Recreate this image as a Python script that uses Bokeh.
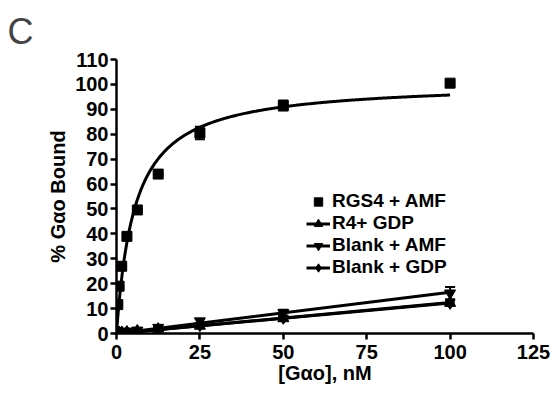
import numpy as np
from bokeh.plotting import figure
from bokeh.models import (Range1d, FixedTicker, Legend, LegendItem, Whisker,
                          ColumnDataSource, TeeHead)
from bokeh.embed import file_html
from bokeh.resources import INLINE

# ---- data ----
conc = [0.39, 0.78, 1.56, 3.125, 6.25, 12.5, 25, 50, 100]
rgs4_amf = [11.6, 19.0, 27.0, 39.0, 49.6, 64.0, 80.5, 91.5, 100.5]
rgs4_amf_err = [0, 0, 0, 0, 0, 0, 2.5, 2.0, 0]
r4_gdp = [0.2, 0.3, 0.4, 0.6, 1.0, 1.8, 3.0, 6.0, 12.2]
r4_gdp_err = [0, 0, 0, 0, 0.2, 0.3, 0.6, 0.8, 1.0]
blank_amf = [0.3, 0.4, 0.6, 0.9, 1.3, 2.4, 5.0, 8.3, 16.2]
blank_amf_err = [0, 0, 0, 0, 0.3, 0.5, 0.8, 1.2, 2.5]
blank_gdp = [0.2, 0.3, 0.4, 0.5, 0.9, 1.6, 3.3, 6.3, 12.3]
blank_gdp_err = [0, 0, 0, 0, 0.2, 0.3, 0.5, 0.8, 1.0]
bmax = 101.0
kd = 5.5
x_ticks = [0, 25, 50, 75, 100, 125]
y_ticks = [0, 10, 20, 30, 40, 50, 60, 70, 80, 90, 100, 110]
x_title = "[Gαo], nM"
y_title = "% Gαo Bound"

FONT = "Liberation Sans"

p = figure(width=554, height=396, output_backend="svg", toolbar_location=None,
           x_range=Range1d(0, 125), y_range=Range1d(0, 110),
           min_border_left=116, min_border_right=21, min_border_top=58,
           min_border_bottom=63)
p.outline_line_color = None
p.grid.visible = False
p.background_fill_color = "white"
p.border_fill_color = "white"

# title "C"
p.title.text = "C"
p.title.text_font = FONT
p.title.text_font_size = "36px"
p.title.text_font_style = "normal"
p.title.align = "left"
p.title.offset = -109
p.title.standoff = 16

for ax in (p.xaxis[0], p.yaxis[0]):
    ax.axis_line_width = 2.5
    ax.major_tick_line_width = 2.5
    ax.major_tick_in = 0
    ax.major_tick_out = 6
    ax.minor_tick_line_color = None
    ax.major_label_text_font = FONT
    ax.major_label_text_font_style = "bold"
    ax.major_label_text_font_size = "20px"
    ax.major_label_text_color = "black"
    ax.axis_label_text_font = FONT
    ax.axis_label_text_font_style = "bold"
    ax.axis_label_text_font_size = "20px"
    ax.axis_label_text_color = "black"
    ax.axis_line_color = "black"
    ax.major_tick_line_color = "black"

p.xaxis.ticker = FixedTicker(ticks=x_ticks)
p.yaxis.ticker = FixedTicker(ticks=y_ticks)
p.xaxis.axis_label = x_title
p.yaxis.axis_label = y_title
p.xaxis.major_label_standoff = 5
p.xaxis.axis_label_standoff = 0
p.yaxis.major_label_standoff = 2
p.yaxis.axis_label_standoff = 3

# fitted curves
xc = np.linspace(0, 100, 300)
yc = bmax * xc / (kd + xc)
p.line(xc, yc, line_color="black", line_width=3)

xa = np.array(conc)
def lin(yv):
    k = np.sum(xa * np.array(yv)) / np.sum(xa * xa)
    xs = np.array([0, 100])
    return xs, k * xs

series = [
    ("RGS4 + AMF", rgs4_amf, rgs4_amf_err, "square", 10, False),
    ("R4+ GDP", r4_gdp, r4_gdp_err, "triangle", 11, True),
    ("Blank + AMF", blank_amf, blank_amf_err, "inverted_triangle", 11, True),
    ("Blank + GDP", blank_gdp, blank_gdp_err, "diamond", 13, True),
]

items = []
for name, yv, ev, marker, size, has_line in series:
    src = ColumnDataSource(dict(x=conc, y=yv,
                                lo=[a - b for a, b in zip(yv, ev)],
                                hi=[a + b for a, b in zip(yv, ev)]))
    rs = []
    if has_line:
        lx, ly = lin(yv)
        rl = p.line(lx, ly, line_color="black", line_width=3)
        rs.append(rl)
    w = Whisker(source=src, base="x", lower="lo", upper="hi",
                line_color="black", line_width=2,
                upper_head=TeeHead(size=10, line_width=2, line_color="black"),
                lower_head=TeeHead(size=10, line_width=2, line_color="black"))
    p.add_layout(w)
    r = p.scatter("x", "y", source=src, marker=marker, size=size,
                  fill_color="black", line_color="black")
    rs.append(r)
    items.append(LegendItem(label=name, renderers=rs))

legend = Legend(items=items, location=(190, 55))
legend.label_text_font = FONT
legend.label_text_font_style = "bold"
legend.label_text_font_size = "19px"
legend.label_text_color = "black"
legend.label_height = 21
legend.glyph_height = 21
legend.glyph_width = 24
legend.label_standoff = 2
legend.spacing = 0
legend.padding = 0
legend.margin = 0
legend.border_line_color = None
legend.background_fill_alpha = 0
p.add_layout(legend)

open("out.html", "w").write(file_html(p, INLINE))
